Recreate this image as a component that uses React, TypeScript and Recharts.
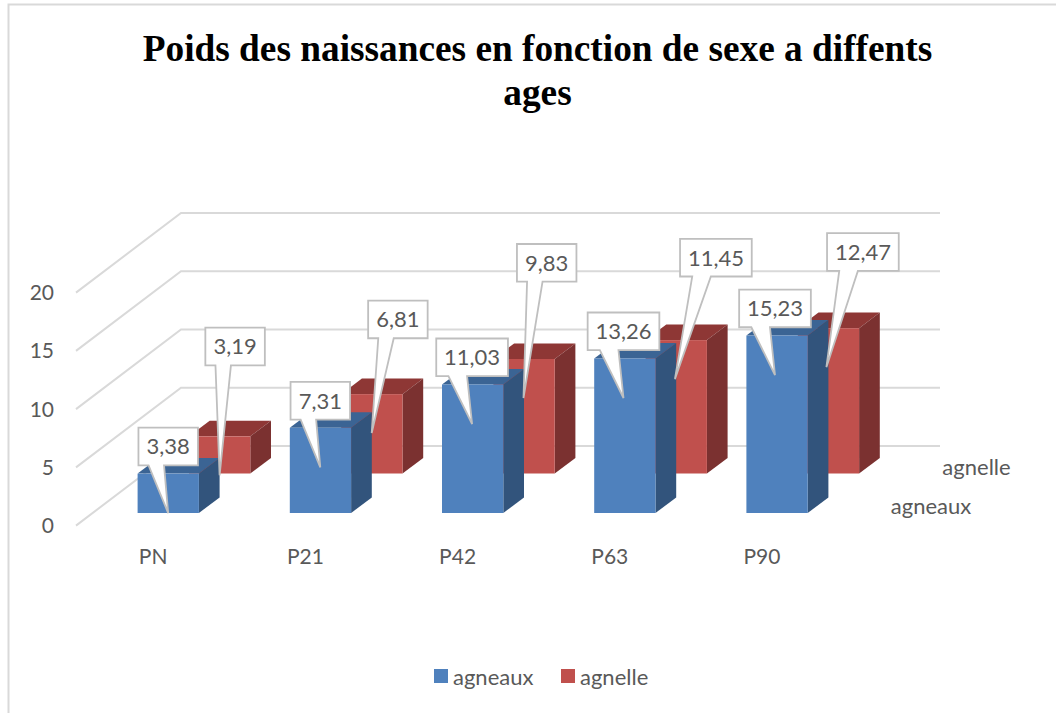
import React from 'react'
import { Bar, CartesianGrid, ComposedChart, LabelList, Legend, Line, XAxis, YAxis } from 'recharts'

const ages = ['PN', 'P21', 'P42', 'P63', 'P90']
const agneaux = [3.38, 7.31, 11.03, 13.26, 15.23]
const agnelle = [3.19, 6.81, 9.83, 11.45, 12.47]
const yTicks = [0, 5, 10, 15, 20]

const data = ages.map((age, i) => ({ age, agneaux: agneaux[i], agnelle: agnelle[i] }))

const BLUE = { front: '#4F81BD', top: '#3B6494', side: '#32547C' }
const RED = { front: '#C0504D', top: '#8E3735', side: '#7B3130' }
const GREY_TEXT = '#595959'
const SANS = 'Lato, sans-serif'

// how far the agnelle row sits behind the agneaux row
const ROW_DX = 51.4
const ROW_DY = -39.5
// box side depth
const SIDE_DX = 20.7
const SIDE_DY = -15.6

// callout layout, per category
const tipDrift = [-0.5, -0.6, -1, -1.8, -2.5]
const agnelleBoxOffsets = [
  [15, -108.7],
  [25.6, -93.6],
  [22.2, -115],
  [39.2, -101.3],
  [34, -95],
]

const Box3D = ({ x, y, width, height, colors, dx = 0, dy = 0 }: any) => {
  const l = x + dx
  const t = y + dy
  const r = l + width
  const b = t + height
  return (
    <g>
      <path d={`M${l} ${t}L${l + SIDE_DX} ${t + SIDE_DY}L${r + SIDE_DX} ${t + SIDE_DY}L${r} ${t}Z`} fill={colors.top} />
      <path d={`M${r} ${t}L${r + SIDE_DX} ${t + SIDE_DY}L${r + SIDE_DX} ${b + SIDE_DY}L${r} ${b}Z`} fill={colors.side} />
      <rect x={l} y={t} width={width} height={height} fill={colors.front} />
    </g>
  )
}

const Callout = ({ tipX, tipY, boxCx, boxTop, value }: any) => {
  const text = String(value).replace('.', ',')
  const w = text.length > 4 ? 71.7 : 59.5
  const h = 37.7
  const l = boxCx - w / 2
  const r = l + w
  const b = boxTop + h
  const p1 = l + w * 0.17
  const p2 = l + w * 0.43
  const d = `M${l} ${boxTop}H${r}V${b}H${p2}L${tipX} ${tipY}L${p1} ${b}H${l}Z`
  return (
    <g>
      <path d={d} fill="#fff" stroke="#BFBFBF" strokeWidth={1.8} strokeLinejoin="miter" />
      <text x={boxCx} y={boxTop + h / 2} dy="0.36em" textAnchor="middle" fontFamily={SANS} fontSize={22} fill={GREY_TEXT}>
        {text}
      </text>
    </g>
  )
}

const getXY = (props: any) => ({
  x: props.x ?? props.viewBox?.x,
  y: props.y ?? props.viewBox?.y,
})

const AgneauxLabel = (props: any) => {
  const { x, y } = getXY(props)
  const cx = x + tipDrift[props.index]
  return <Callout tipX={cx} tipY={y + 39.5} boxCx={cx} boxTop={y - 46} value={props.value} />
}

const AgnelleLabel = (props: any) => {
  const { x, y } = getXY(props)
  const [boxDx, boxDy] = agnelleBoxOffsets[props.index]
  const cx = x + ROW_DX
  const top = y + ROW_DY
  return <Callout tipX={cx + tipDrift[props.index]} tipY={top + 39} boxCx={cx + boxDx} boxTop={top + boxDy} value={props.value} />
}

const GridLine3D = (props: any) => {
  const y = props.y1
  return <path d={`M76 ${y + 12.6}L181 ${y - 67}H940`} fill="none" stroke="#D9D9D9" strokeWidth={2} />
}

const YTick = ({ y, payload }: any) => (
  <text x={54} y={y + 12.6} dy="0.36em" textAnchor="end" fontFamily={SANS} fontSize={21} fill={GREY_TEXT}>
    {payload.value}
  </text>
)

const XTick = ({ x, payload }: any) => (
  <text x={x - 15.5} y={556} dy="0.36em" textAnchor="middle" fontFamily={SANS} fontSize={21} fill={GREY_TEXT}>
    {payload.value}
  </text>
)

const LegendContent = ({ payload }: any) => {
  const items = (payload || []).filter((item: any) => item.type !== 'none' && item.color !== 'none')
  return (
    <div style={{ position: 'relative', height: 0 }}>
      {items.map((item: any) => (
        <div
          key={item.value}
          style={{
            position: 'absolute',
            left: item.value === 'agneaux' ? 434 : 561,
            top: 0,
            display: 'flex',
            alignItems: 'center',
            height: 14,
            fontFamily: SANS,
            fontSize: 22,
            color: GREY_TEXT,
            whiteSpace: 'nowrap',
          }}
        >
          <span style={{ width: 14, height: 14, background: item.color, marginRight: 5 }} />
          {item.value}
        </div>
      ))}
    </div>
  )
}

export default function App() {
  return (
    <div style={{ position: 'absolute', left: 0, top: 0, width: 1056, height: 713, background: '#fff' }}>
      <ComposedChart
        width={1056}
        height={713}
        data={data}
        barGap={-61.3}
        barSize={61.3}
        margin={{ top: 280, right: 202.4, bottom: 170, left: 0 }}
      >
        <path d="M1056 4.5H8.5V713" fill="none" stroke="#D9D9D9" strokeWidth={2} />
        <CartesianGrid vertical={false} horizontal={GridLine3D as any} />
        <XAxis dataKey="age" height={30} interval={0} axisLine={false} tickLine={false} tick={XTick as any} />
        <YAxis width={92.6} domain={[0, 20]} ticks={yTicks} axisLine={false} tickLine={false} tick={YTick as any} />
        <Legend
          content={LegendContent as any}
          wrapperStyle={{ left: 0, top: 669, width: 1056, height: 0 }}
          height={0}
        />
        <Bar
          dataKey="agnelle"
          fill={RED.front}
          isAnimationActive={false}
          shape={(p: any) => <Box3D {...p} colors={RED} dx={ROW_DX} dy={ROW_DY} />}
        />
        <Bar
          dataKey="agneaux"
          fill={BLUE.front}
          isAnimationActive={false}
          shape={(p: any) => <Box3D {...p} colors={BLUE} />}
        />
        <Line dataKey="agneaux" stroke="none" dot={false} activeDot={false} legendType="none" isAnimationActive={false}>
          <LabelList dataKey="agneaux" content={AgneauxLabel as any} />
        </Line>
        <Line dataKey="agnelle" stroke="none" dot={false} activeDot={false} legendType="none" isAnimationActive={false}>
          <LabelList dataKey="agnelle" content={AgnelleLabel as any} />
        </Line>
        <text x={976.5} y={467} dy="0.36em" textAnchor="middle" fontFamily={SANS} fontSize={22} fill={GREY_TEXT}>agnelle</text>
        <text x={931} y={506} dy="0.36em" textAnchor="middle" fontFamily={SANS} fontSize={22} fill={GREY_TEXT}>agneaux</text>
        <text x={537.5} y={61} textAnchor="middle" fontFamily="'Liberation Serif', serif" fontWeight="bold" fontSize={37.3} fill="#000">
          Poids des naissances en fonction de sexe a diffents
        </text>
        <text x={537.5} y={105} textAnchor="middle" fontFamily="'Liberation Serif', serif" fontWeight="bold" fontSize={37.3} fill="#000">
          ages
        </text>
      </ComposedChart>
    </div>
  )
}
